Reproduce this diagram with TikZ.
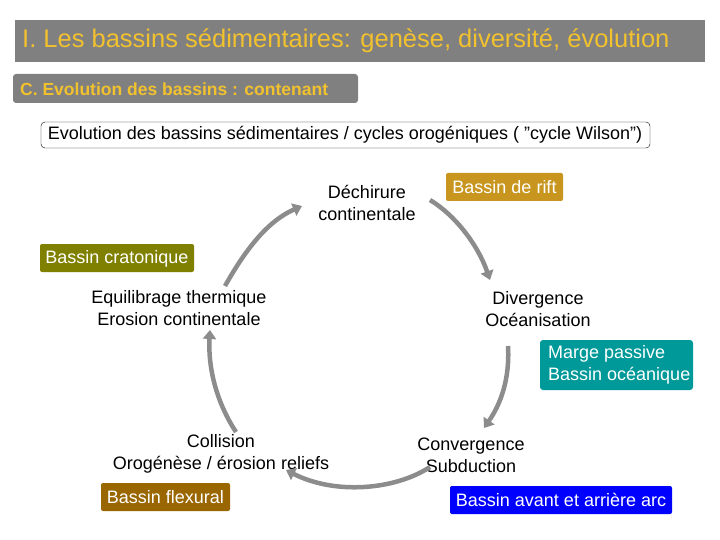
\documentclass[tikz,border=0pt]{standalone}
\usepackage{fontspec}
\setmainfont{Liberation Sans}
\usetikzlibrary{arrows.meta}
\definecolor{ttl}{HTML}{F2C12E}
\definecolor{gr}{HTML}{808080}
\definecolor{arr}{HTML}{8C8C8C}
\begin{document}
\begin{tikzpicture}[x=1pt,y=-1pt,
  lbl/.style={align=center,font=\fontsize{18}{22}\selectfont,inner sep=0pt},
  tag/.style={rounded corners=2pt,text=white,font=\fontsize{18}{22}\selectfont,align=left,inner sep=0pt,anchor=north west},
  cyc/.style={draw=arr,line width=4.5pt,-{Triangle[length=9pt,width=13pt]}}]
\useasboundingbox (0,0) rectangle (720,540);
\fill[gr] (15,20) rectangle (705,62);
\node[anchor=west,text=ttl,font=\fontsize{25.5}{28}\selectfont,inner sep=0pt] (t) at (22,41) {I. Les bassins sédimentaires: genèse, diversité, évolution};
\fill[gr,rounded corners=3pt] (13,74) rectangle (358,103);
\node[anchor=west,text=ttl,font=\bfseries\fontsize{17.5}{20}\selectfont,inner sep=0pt] (c) at (20,89) {C. Evolution des bassins : contenant};
\draw[rounded corners=4pt] (41,122) rectangle (650,148);
\node[lbl] (w) at (345,135) {Evolution des bassins sédimentaires / cycles orogéniques ( "cycle Wilson")};
\node[lbl] (dech) at (367,203) {Déchirure\\continentale};
\node[lbl] (div) at (538,309) {Divergence\\Océanisation};
\node[lbl] (conv) at (471,455) {Convergence\\Subduction};
\node[lbl] (col) at (221,454) {Collision\\Orogénèse / érosion reliefs};
\node[lbl] (eq) at (179,308) {Equilibrage thermique\\Erosion continentale};
\fill[fill={rgb,255:red,200;green,150;blue,30},rounded corners=2pt] (446,173) rectangle (563,201);
\node[tag,anchor=center] (rift) at (504.5,187) {Bassin de rift};
\fill[fill={rgb,255:red,128;green,128;blue,0},rounded corners=2pt] (40,244) rectangle (194,272);
\node[tag,anchor=center] (crat) at (117,259) {Bassin cratonique};
\fill[fill={rgb,255:red,0;green,153;blue,153},rounded corners=3pt] (540,340) rectangle (693,390);
\node[tag,anchor=west] (marge) at (548,365) {Marge passive\\Bassin océanique};
\fill[fill={rgb,255:red,153;green,102;blue,0},rounded corners=2pt] (101,483) rectangle (230,511);
\node[tag,anchor=center] (flex) at (165.5,497) {Bassin flexural};
\fill[fill={rgb,255:red,0;green,0;blue,255},rounded corners=2pt] (450,486) rectangle (672,514);
\node[tag,anchor=center] (arc) at (561,500) {Bassin avant et arrière arc};
\coordinate (a1s) at (225,286); \coordinate (a1e) at (302,206);
\coordinate (a2s) at (430,200); \coordinate (a2e) at (490,280);
\coordinate (a3s) at (508,346); \coordinate (a3e) at (484,428);
\coordinate (a4s) at (430,467); \coordinate (a4e) at (286,470);
\coordinate (a5s) at (236,432); \coordinate (a5e) at (210,330);
\draw[cyc] (a1s) .. controls (248,245) and (270,220) .. (a1e);
\draw[cyc] (a2s) .. controls (455,215) and (478,245) .. (a2e);
\draw[cyc] (a3s) .. controls (510,380) and (500,405) .. (a3e);
\draw[cyc] (a4s) .. controls (395,490) and (335,495) .. (a4e);
\draw[cyc] (a5s) .. controls (215,400) and (208,365) .. (a5e);
\end{tikzpicture}
\end{document}
